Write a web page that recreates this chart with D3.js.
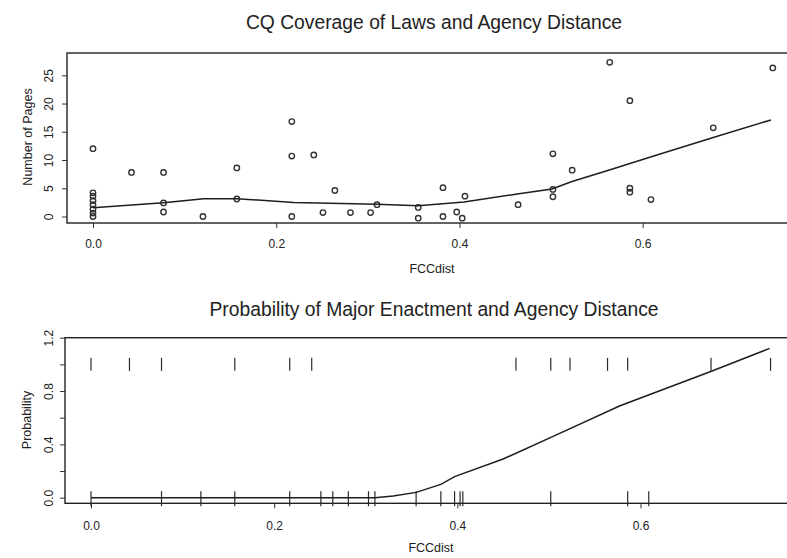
<!DOCTYPE html>
<html>
<head>
<meta charset="utf-8">
<script src="https://cdn.jsdelivr.net/npm/d3@7"></script>
<style>
  body { margin: 0; background: #fff; }
  svg { display: block; font-family: "Liberation Sans", Arial, sans-serif; }
  .frame { fill: none; stroke: #222; stroke-width: 1.4; }
  .axis path { display: none; }
  .axis line { stroke: #333; stroke-width: 1; }
  .axis text { fill: #222; font-size: 12px; }
  .fit { fill: none; stroke: #1e1e1e; stroke-width: 1.5; }
  .pt { fill: none; stroke: #333; stroke-width: 1.4; }
  .rug { stroke: #2a2a2a; stroke-width: 1.2; }
</style>
</head>
<body>
<svg id="chart" width="787" height="558"></svg>
<script>
// top panel: FCCdist vs number of pages
var pagesX = [0, 0, 0, 0, 0, 0, 0, 0,
  0.042, 0.077, 0.077, 0.077, 0.12, 0.157, 0.157,
  0.217, 0.217, 0.217, 0.241, 0.251, 0.264, 0.281, 0.303, 0.31,
  0.355, 0.355, 0.382, 0.382, 0.397, 0.403, 0.406, 0.464,
  0.502, 0.502, 0.502, 0.523, 0.564, 0.586, 0.586, 0.586, 0.609, 0.677, 0.742];
var pagesY = [12, 0, 0.6, 1.3, 2.1, 2.8, 3.6, 4.2,
  7.8, 7.8, 2.4, 0.8, 0, 8.6, 3.1,
  16.8, 10.7, 0, 10.9, 0.7, 4.6, 0.7, 0.7, 2.1,
  1.6, -0.3, 5.1, 0, 0.8, -0.3, 3.6, 2.1,
  11.1, 4.8, 3.5, 8.2, 27.3, 20.5, 5.0, 4.3, 3, 15.7, 26.3];

// smoothed line over the pages
var loessX = [0, 0.077, 0.121, 0.157, 0.219, 0.31, 0.355, 0.405, 0.463, 0.501, 0.522, 0.561, 0.612, 0.677, 0.74];
var loessY = [1.56, 2.44, 3.15, 3.15, 2.5, 2.15, 1.9, 2.55, 3.98, 4.87, 6.16, 8.1, 10.7, 14.0, 17.1];

// bottom panel: major enactment (1) or not (0)
var enactedX = [0, 0.042, 0.077, 0.157, 0.217, 0.241, 0.464, 0.502, 0.523, 0.564, 0.586, 0.677, 0.742];
var notEnactedX = [0, 0.077, 0.12, 0.157, 0.217, 0.251, 0.264, 0.281, 0.303, 0.31,
  0.355, 0.382, 0.397, 0.403, 0.406, 0.502, 0.586, 0.609];

// fitted probability
var probX = [0, 0.157, 0.303, 0.31, 0.33, 0.355, 0.382, 0.397, 0.45, 0.504, 0.577, 0.676, 0.741];
var probY = [0, 0, 0, 0, 0.012, 0.04, 0.1, 0.158, 0.29, 0.458, 0.688, 0.945, 1.12];

var xTicks = [0, 0.2, 0.4, 0.6];
var pageTicks = [0, 5, 10, 15, 20, 25];
var probTicks = [0, 0.2, 0.4, 0.6, 0.8, 1.0, 1.2];
var probLabelled = [0, 0.4, 0.8, 1.2];

var svg = d3.select("#chart");
svg.append("rect").attr("width", 787).attr("height", 558).attr("fill", "#fff");

var fmt = d3.format(".1f");

// ---------- top panel ----------
var top1 = {left: 67, top: 53, bottom: 223};
var x1 = d3.scaleLinear().domain([0, 0.6]).range([93, 642.7]);
var y1 = d3.scaleLinear().domain([0, 25]).range([216.5, 75.3]);
var right1 = x1(0.773);

svg.append("g")
  .attr("class", "axis")
  .attr("transform", "translate(0," + top1.bottom + ")")
  .call(d3.axisBottom(x1).tickValues(xTicks).tickFormat(fmt).tickSize(5).tickPadding(11));

svg.append("g")
  .attr("class", "axis")
  .attr("transform", "translate(" + top1.left + ",0)")
  .call(d3.axisLeft(y1).tickValues(pageTicks).tickSize(5))
  .selectAll("text")
    .attr("transform", "rotate(-90)")
    .attr("text-anchor", "middle")
    .attr("x", 0).attr("y", -14.5).attr("dy", 0);

svg.append("rect")
  .attr("class", "frame")
  .attr("x", top1.left).attr("y", top1.top)
  .attr("width", right1 - top1.left).attr("height", top1.bottom - top1.top);

svg.selectAll(".pt")
  .data(pagesX)
  .enter().append("circle")
    .attr("class", "pt")
    .attr("cx", function(d) { return x1(d); })
    .attr("cy", function(d, i) { return y1(pagesY[i]); })
    .attr("r", 2.7);

var loessLine = d3.line()
  .x(function(d) { return x1(d); })
  .y(function(d, i) { return y1(loessY[i]); });
svg.append("path").attr("class", "fit").attr("d", loessLine(loessX));

svg.append("text")
  .attr("x", 434).attr("y", 29)
  .attr("text-anchor", "middle")
  .attr("font-size", 19.3).attr("fill", "#222")
  .text("CQ Coverage of Laws and Agency Distance");

svg.append("text")
  .attr("x", 432).attr("y", 273)
  .attr("text-anchor", "middle")
  .attr("font-size", 12.5).attr("fill", "#222")
  .text("FCCdist");

svg.append("text")
  .attr("transform", "translate(31.5,137) rotate(-90)")
  .attr("text-anchor", "middle")
  .attr("font-size", 12.5).attr("fill", "#222")
  .text("Number of Pages");

// ---------- bottom panel ----------
var top2 = {left: 65, top: 337.7, bottom: 503.3};
var x2 = d3.scaleLinear().domain([0, 0.6]).range([91, 640.5]);
var y2 = d3.scaleLinear().domain([0, 1.2]).range([497.7, 337.7]);
var right2 = x2(0.773);

svg.append("g")
  .attr("class", "axis")
  .attr("transform", "translate(0," + top2.bottom + ")")
  .call(d3.axisBottom(x2).tickValues(xTicks).tickFormat(fmt).tickSize(5).tickPadding(13));

svg.append("g")
  .attr("class", "axis")
  .attr("transform", "translate(" + top2.left + ",0)")
  .call(d3.axisLeft(y2).tickValues(probTicks).tickSize(5)
    .tickFormat(function(d) { return probLabelled.indexOf(d) >= 0 ? fmt(d) : ""; }))
  .selectAll("text")
    .attr("transform", "rotate(-90)")
    .attr("text-anchor", "middle")
    .attr("x", 0).attr("y", -12.5).attr("dy", 0);

svg.append("rect")
  .attr("class", "frame")
  .attr("x", top2.left).attr("y", top2.top)
  .attr("width", right2 - top2.left).attr("height", top2.bottom - top2.top);

// rug marks at 1 and 0
svg.selectAll(".rug1")
  .data(enactedX)
  .enter().append("line")
    .attr("class", "rug")
    .attr("x1", function(d) { return x2(d); }).attr("x2", function(d) { return x2(d); })
    .attr("y1", y2(1) - 6.5).attr("y2", y2(1) + 6.5)
    .attr("stroke", "#555");

svg.selectAll(".rug0")
  .data(notEnactedX)
  .enter().append("line")
    .attr("class", "rug")
    .attr("x1", function(d) { return x2(d); }).attr("x2", function(d) { return x2(d); })
    .attr("y1", y2(0) - 6.5).attr("y2", y2(0) + 8.5);

var probLine = d3.line()
  .x(function(d) { return x2(d); })
  .y(function(d, i) { return y2(probY[i]); });
svg.append("path").attr("class", "fit").attr("d", probLine(probX));

svg.append("text")
  .attr("x", 434).attr("y", 316)
  .attr("text-anchor", "middle")
  .attr("font-size", 19.3).attr("fill", "#222")
  .text("Probability of Major Enactment and Agency Distance");

svg.append("text")
  .attr("x", 431).attr("y", 552)
  .attr("text-anchor", "middle")
  .attr("font-size", 12.5).attr("fill", "#222")
  .text("FCCdist");

svg.append("text")
  .attr("transform", "translate(30.5,420) rotate(-90)")
  .attr("text-anchor", "middle")
  .attr("font-size", 12.5).attr("fill", "#222")
  .text("Probability");
</script>
</body>
</html>
